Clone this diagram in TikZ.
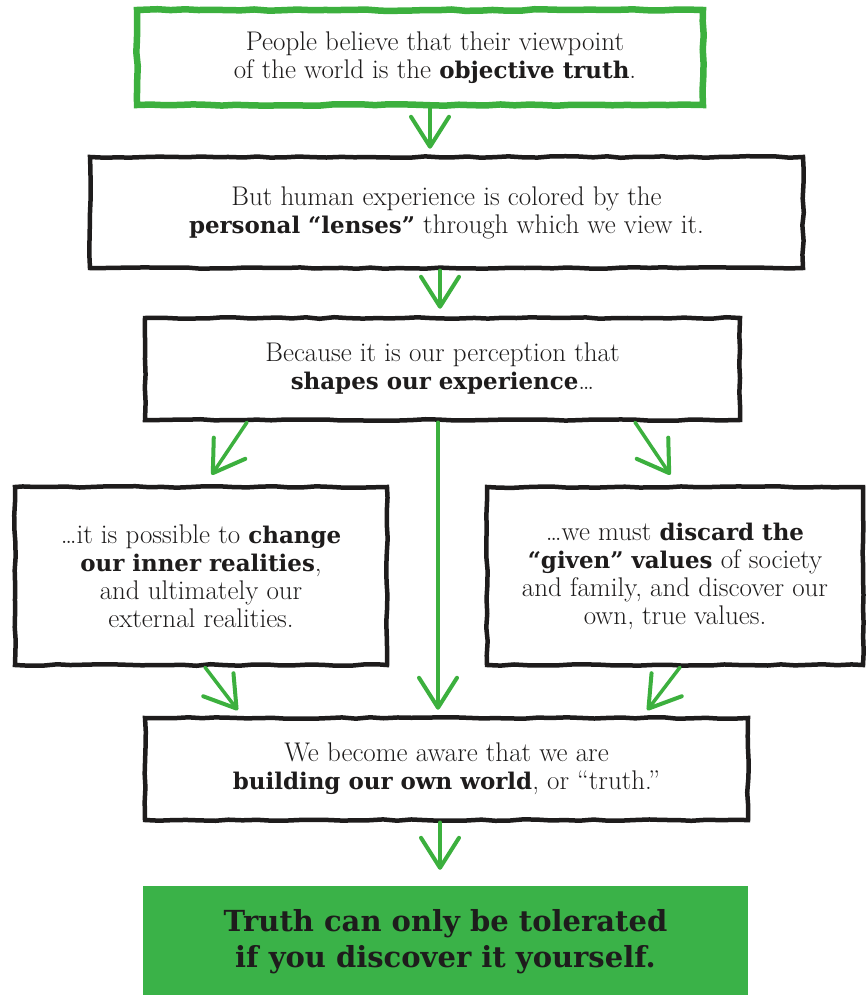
\documentclass[tikz,border=0pt]{standalone}
\usepackage{fontspec}
\usetikzlibrary{arrows.meta,decorations.pathmorphing}
\newfontfamily\slab{DejaVu Serif}[Scale=0.85]
\newfontfamily\slabfin{DejaVu Serif}
\newcommand{\bb}[1]{{\slab\bfseries #1}}
\definecolor{lgreen}{RGB}{60,176,62}
\definecolor{fgreen}{RGB}{58,178,72}
\definecolor{ink}{RGB}{30,28,28}
\tikzset{
  rough/.style={decorate,decoration={random steps,segment length=14pt,amplitude=0.8pt}},
  blackbox/.style={draw=ink,line width=4.5pt,rough,inner sep=0pt,align=center,text=ink,
     font=\fontsize{27}{28}\selectfont},
  greenbox/.style={draw=lgreen,line width=6.5pt,rough,inner sep=0pt,align=center,text=ink,
     font=\fontsize{27}{28}\selectfont},
  finalbox/.style={fill=fgreen,draw=none,inner sep=0pt,align=center,text=ink,
     font=\slabfin\bfseries\fontsize{29}{36}\selectfont},
  flow/.style={draw=lgreen,line width=3.5pt,line cap=round,
     -{Straight Barb[length=30pt,width=38pt,line width=4pt,round]}}
}
\begin{document}
\begin{tikzpicture}[x=1pt,y=-1pt]
\useasboundingbox[fill=white] (0,0) rectangle (866,995);
\node[greenbox,minimum width=566pt,minimum height=95pt] (b1) at (420,57.5)
  {\hspace*{30pt}People believe that their viewpoint\\\hspace*{30pt}of the world is the \bb{objective truth}.};
\node[blackbox,minimum width=713pt,minimum height=111pt] (b2) at (446.5,212.5)
  {But human experience is colored by the\\\bb{personal “lenses”} through which we view it.};
\node[blackbox,minimum width=595pt,minimum height=102pt] (b3) at (442.5,369)
  {Because it is our perception that\\\bb{shapes our experience}\ldots};
\node[blackbox,minimum width=372pt,minimum height=178pt] (b4) at (201,576)
  {\ldots it is possible to \bb{change}\\\bb{our inner realities},\\and ultimately our\\external realities.};
\node[blackbox,minimum width=376pt,minimum height=178pt] (b5) at (675,576)
  {\ldots we must \bb{discard the}\\\bb{“given” values} of society\\and family, and discover our\\own, true values.};
\node[blackbox,minimum width=603pt,minimum height=102pt] (b6) at (446.5,769)
  {We become aware that we are\\\bb{building our own world}, or “truth.”};
\node[finalbox,minimum width=605pt,minimum height=112pt] (b7) at (445.5,942)
  {Truth can only be tolerated\\if you discover it yourself.};
% connectors
\coordinate (c430) at (430,0);
\coordinate (c440) at (440,0);
\coordinate (c438) at (438,0);
\draw[flow,shorten >=6pt] (b1.south -| c430) -- (b2.north -| c430);
\draw[flow,shorten >=7pt] (b2.south -| c440) -- (b3.north -| c440);
\coordinate (l1) at (247,0); \coordinate (l2) at (205,0);
\coordinate (r1) at (635,0); \coordinate (r2) at (677,0);
\draw[flow,shorten >=12pt] (b3.south -| l1) -- (b4.north -| l2);
\draw[flow,shorten >=12pt] (b3.south -| r1) -- (b5.north -| r2);
\draw[flow,shorten >=6pt] (b3.south -| c438) -- (b6.north -| c438);
\coordinate (l3) at (205,0); \coordinate (l4) at (242,0);
\coordinate (r3) at (680,0); \coordinate (r4) at (643,0);
\draw[flow,shorten >=7pt] (b4.south -| l3) -- (b6.north -| l4);
\draw[flow,shorten >=7pt] (b5.south -| r3) -- (b6.north -| r4);
\draw[flow,shorten >=16pt] (b6.south -| c440) -- (b7.north -| c440);
\end{tikzpicture}
\end{document}
